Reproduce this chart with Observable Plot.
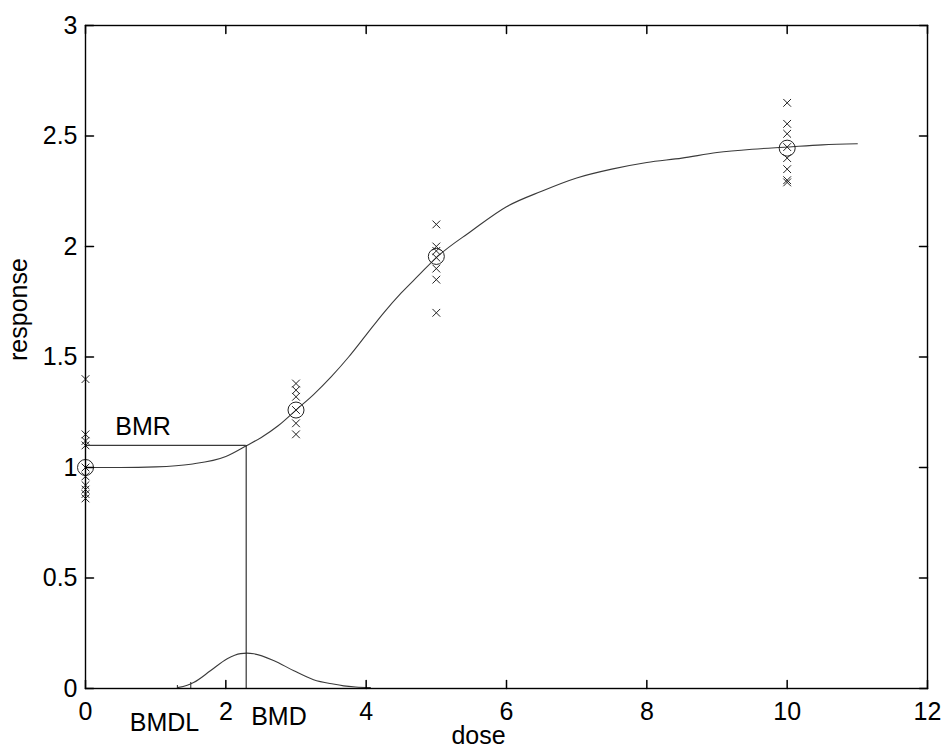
<!DOCTYPE html>
<html>
<head>
<meta charset="utf-8">
<script src="https://cdn.jsdelivr.net/npm/d3@7"></script>
<script src="https://cdn.jsdelivr.net/npm/@observablehq/plot@0.6"></script>
<style>
  html, body { margin: 0; padding: 0; background: #fff; }
</style>
</head>
<body>
<div id="chart"></div>
<script>
// Tick values and labels
const xTicks = [0, 2, 4, 6, 8, 10, 12];
const xTickLabels = ["0", "2", "4", "6", "8", "10", "12"];
const yTicks = [0, 0.5, 1, 1.5, 2, 2.5, 3];
const yTickLabels = ["0", "0.5", "1", "1.5", "2", "2.5", "3"];

// Observations (x markers) per dose group
const doseGroups = [0, 3, 5, 10];
const obsDose0 = [1.40, 1.15, 1.12, 1.10, 1.0, 0.96, 0.92, 0.90, 0.88, 0.86];
const obsDose3 = [1.38, 1.35, 1.32, 1.26, 1.20, 1.15];
const obsDose5 = [2.10, 2.00, 1.98, 1.95, 1.90, 1.85, 1.70];
const obsDose10 = [2.65, 2.555, 2.51, 2.45, 2.40, 2.35, 2.30, 2.29];

// Group means (circles)
const groupMeans = [1.0, 1.26, 1.955, 2.445];

// Fitted dose-response curve
const fitDose = [0, 0.5, 1, 1.5, 2, 2.3, 2.5, 2.75, 3, 3.25, 3.5, 3.75, 4, 4.25, 4.5, 4.75, 5, 5.5, 6, 6.5, 7, 7.5, 8, 8.5, 9, 9.5, 10, 10.5, 11];
const fitResponse = [1.0, 1.0, 1.003, 1.015, 1.05, 1.1, 1.135, 1.19, 1.26, 1.33, 1.41, 1.5, 1.6, 1.7, 1.79, 1.87, 1.95, 2.07, 2.18, 2.25, 2.31, 2.35, 2.38, 2.40, 2.425, 2.44, 2.45, 2.46, 2.465];

// BMD distribution curve near the bottom
const distDose = [1.31, 1.45, 1.54, 1.78, 2.02, 2.21, 2.3, 2.4, 2.68, 2.97, 3.25, 3.53, 3.68, 3.85, 4.06];
const distDensity = [0.004, 0.015, 0.027, 0.08, 0.135, 0.158, 0.16, 0.157, 0.127, 0.08, 0.04, 0.02, 0.012, 0.007, 0.004];

// BMR / BMD / BMDL markers
const BMR = 1.1;
const BMD = 2.29;
const bmdlMarkDose = [1.31, 1.5];
const bmdlMarkHeight = [0.014, 0.027];

// Annotation labels
const annotLabels = ["BMR", "BMDL", "BMD"];
const annotX = [0.82, 1.126, 2.757];
const annotY = [1.185, -0.154, -0.129];

// ---- build tables ----
const obsTable = [];
[obsDose0, obsDose3, obsDose5, obsDose10].forEach((arr, g) =>
  arr.forEach(v => obsTable.push({dose: doseGroups[g], resp: v})));
const meanTable = doseGroups.map((d, i) => ({dose: d, resp: groupMeans[i]}));
const fitTable = fitDose.map((d, i) => ({dose: d, resp: fitResponse[i]}));
const distTable = distDose.map((d, i) => ({dose: d, dens: distDensity[i]}));
const bmdlTable = bmdlMarkDose.map((d, i) => ({dose: d, h: bmdlMarkHeight[i]}));
const annotTable = annotLabels.map((t, i) => ({t, x: annotX[i], y: annotY[i]}));

const tickShape = {draw(context, l) { context.moveTo(0, 0); context.lineTo(0, -l); }};
const lineColor = "#3a3a3a";
const font = "'Liberation Sans', Arial, Helvetica, sans-serif";
const fs = 25;

const chart = Plot.plot({
  width: 943,
  height: 753,
  marginLeft: 85,
  marginRight: 16,
  marginTop: 25,
  marginBottom: 65,
  x: {domain: [0, 12], label: null},
  y: {domain: [0, 3], label: null},
  style: {fontFamily: font, background: "#fff", color: "#000"},
  marks: [
    // data
    Plot.line(fitTable, {x: "dose", y: "resp", stroke: lineColor, strokeWidth: 1.1, curve: "monotone-x"}),
    Plot.line(distTable, {x: "dose", y: "dens", stroke: lineColor, strokeWidth: 1.1, curve: "monotone-x"}),
    Plot.ruleY([{y: BMR, x1: 0, x2: BMD}], {y: "y", x1: "x1", x2: "x2", stroke: lineColor, strokeWidth: 1.1}),
    Plot.ruleX([{x: BMD, y1: 0, y2: BMR}], {x: "x", y1: "y1", y2: "y2", stroke: "#222", strokeWidth: 1.1}),
    Plot.ruleX(bmdlTable, {x: "dose", y1: 0, y2: "h", stroke: lineColor, strokeWidth: 1.1}),
    Plot.dot(obsTable, {x: "dose", y: "resp", symbol: "times", r: 3.6, stroke: "#222", strokeWidth: 1}),
    Plot.dot(meanTable, {x: "dose", y: "resp", r: 8, stroke: "#222", fill: "none", strokeWidth: 1}),
    // inward ticks on all four sides
    Plot.vector(xTicks, {x: d => d, frameAnchor: "bottom", length: 8, rotate: 0, anchor: "start", shape: tickShape, stroke: "#000"}),
    Plot.vector(xTicks, {x: d => d, frameAnchor: "top", length: 8, rotate: 180, anchor: "start", shape: tickShape, stroke: "#000"}),
    Plot.vector(yTicks, {y: d => d, frameAnchor: "left", length: 8, rotate: 90, anchor: "start", shape: tickShape, stroke: "#000"}),
    Plot.vector(yTicks, {y: d => d, frameAnchor: "right", length: 8, rotate: -90, anchor: "start", shape: tickShape, stroke: "#000"}),
    Plot.frame({stroke: "#000", strokeWidth: 1.4}),
    // tick labels
    Plot.axisX(xTicks, {anchor: "bottom", tickSize: 0, tickPadding: 14, fontSize: fs, label: null,
      tickFormat: d => xTickLabels[xTicks.indexOf(d)]}),
    Plot.axisY(yTicks, {anchor: "left", tickSize: 0, tickPadding: 8, fontSize: fs, label: null,
      tickFormat: d => yTickLabels[yTicks.indexOf(d)]}),
    // annotations
    Plot.text(annotTable, {x: "x", y: "y", text: "t", fontSize: fs, fill: "#000"}),
    // axis labels
    Plot.text(["dose"], {frameAnchor: "bottom", dx: -28, dy: 55, text: d => d, fontSize: fs, fill: "#000"}),
    Plot.text(["response"], {frameAnchor: "left", dx: -67, dy: 4, rotate: -90, text: d => d, fontSize: fs, fill: "#000"})
  ]
});
document.getElementById("chart").appendChild(chart);
</script>
</body>
</html>
